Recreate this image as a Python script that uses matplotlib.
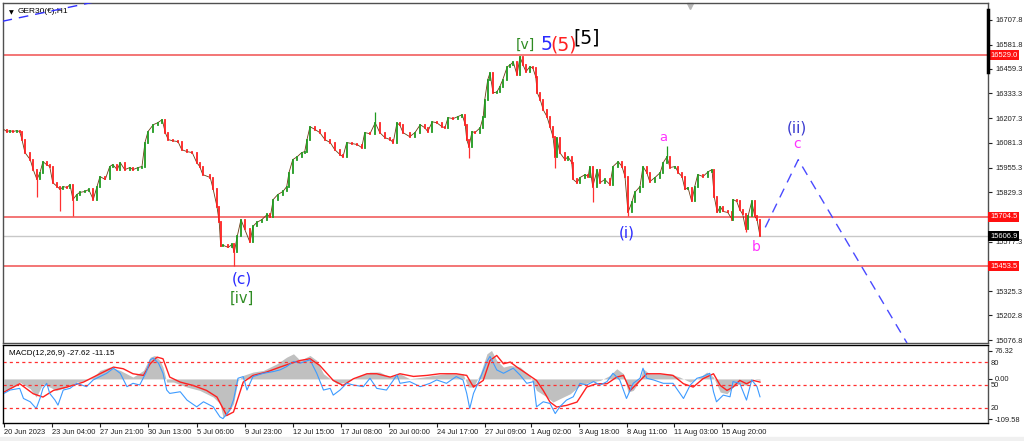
import numpy as np
import matplotlib.pyplot as plt
from matplotlib.patches import Rectangle

# ---- data (x = hourly bar index from 20 Jun 00:00) ----
hour_idx = [0, 4, 8, 12, 17, 21, 24, 28, 35, 39, 44, 48, 52, 57, 61, 65, 71, 75, 79, 84,
            88, 92, 97, 101, 108, 113, 119, 124, 128, 135, 141, 145, 151, 155, 161, 168, 172, 179, 184, 188,
            192, 199, 205, 211, 215, 219, 225, 232, 237, 244, 251, 257, 261,
            265, 275, 279, 284, 287, 289, 292, 299, 304, 307, 311, 316, 321, 328, 332, 337, 344, 351, 355, 359,
            365, 372, 377, 380, 385, 391, 397, 401, 404, 408, 415, 421, 428, 435, 441, 448, 452, 457, 464, 471,
            477, 481, 488, 495, 501, 508, 515, 519, 524,
            528, 532, 541, 548, 555, 561, 565, 571, 577, 584, 588, 592, 599, 605, 611, 615, 617, 620, 624, 628,
            635, 639, 641, 645, 648, 652, 657, 661, 665, 671, 675, 679, 684, 688, 692, 696, 701, 705, 709, 711,
            715, 719, 724, 728, 732, 735, 737, 741, 748, 752, 757, 759, 764, 768, 775, 779, 781, 785, 791,
            795, 801, 808, 812, 819, 824, 828, 832, 837, 841, 848, 852, 857, 861, 868, 875, 879, 884, 888, 895,
            899, 904, 908, 912, 917, 921, 925, 932, 939, 944, 947, 951, 955, 959, 965, 971, 972, 977, 981, 985,
            989, 992, 997, 1001, 1004, 1008]
close = [16149, 16139, 16144, 16139, 16144, 16139, 16098, 16032, 15996, 15945, 15895, 15930, 15986, 15970, 15961, 15879, 15859, 15844, 15859, 15854,
         15869, 15793, 15818, 15829, 15834, 15844, 15793, 15859, 15910, 15895, 15961, 15971, 15945, 15981, 15945, 15956, 15945, 15956, 15961, 16083,
         16139, 16174, 16184, 16200, 16134, 16098, 16092, 16088, 16047, 16037, 16032, 15981, 15961,
         15920, 15905, 15844, 15757, 15676, 15554, 15560, 15549, 15564, 15524, 15605, 15691, 15641, 15575, 15656, 15676, 15691, 15717, 15702, 15793,
         15818, 15834, 15859, 15930, 15996, 16011, 16032, 16037, 16098, 16164, 16149, 16134, 16098, 16083, 16047, 16022, 16011, 16083, 16078, 16073,
         16057, 16134, 16128, 16184, 16134, 16108, 16098, 16083, 16184,
         16170, 16134, 16113, 16134, 16174, 16159, 16139, 16189, 16184, 16164, 16159, 16210, 16205, 16215, 16225, 16174, 16098, 16062, 16139, 16134,
         16159, 16215, 16301, 16403, 16438, 16337, 16340, 16367, 16403, 16469, 16479, 16494, 16428, 16519, 16479, 16444, 16469, 16464, 16418, 16337,
         16301, 16250, 16215, 16164, 16113, 16011, 16108, 16032, 15996, 16011, 15981, 15895, 15879, 15905, 15920, 15910, 15961, 15859, 15945,
         15879, 15895, 15869, 15961, 15986, 15961, 15910, 15727, 15778, 15829, 15859, 15961, 15930, 15884, 15905, 15930, 15981, 16011, 15956, 15961,
         15930, 15910, 15844, 15854, 15783, 15859, 15920, 15910, 15935, 15945, 15808, 15727, 15757, 15732, 15727, 15691, 15793, 15783, 15742, 15717,
         15641, 15707, 15783, 15707, 15691, 15607]

# a few long shadows that stick out of the bodies
wick_idx = [44, 75, 92, 307, 495, 620, 688, 735, 785, 832, 884, 989]
wick_end = [15808, 15732, 15707, 15453, 16240, 16006, 16524, 15956, 15778, 15707, 16063, 15626]

levels_red = [16529.0, 15704.5, 15453.5]
last_price = 15606.9
price_ticks = [16707.8, 16581.8, 16459.3, 16333.3, 16207.3, 16081.3, 15955.3, 15829.3,
               15577.3, 15325.3, 15202.8, 15076.8]

# projected path for wave (ii) / next leg down
proj_idx = [1015, 1059, 1204]
proj_price = [15651, 15996, 15062]
old_line_idx = [-2, 130]
old_line_price = [16701, 16807]

# MACD main (histogram), signal and the blue oscillator (0-100 scale)
macd_idx = [0, 12, 21, 35, 43, 52, 61, 70, 84, 97, 110, 119, 128, 141, 155, 172, 186, 195, 201, 208,
            212, 217, 226, 244, 261, 279, 288, 292, 297, 306, 312, 319, 332, 346, 364, 377, 386, 395, 408, 417,
            426, 435, 444, 457, 475, 488, 501, 515, 528, 541, 559, 572, 590, 603, 612, 619, 626, 635, 644, 650,
            657, 666, 675, 688, 701, 710, 724, 732, 741, 755, 768, 781, 795, 808, 817, 826, 832, 839, 848, 852,
            861, 875, 888, 901, 915, 928, 937, 946, 955, 964, 972, 981, 990, 999, 1008]
macd_main = [-31.4, -22.3, -8.7, -26.9, -49.6, -13.2, -22.3, -31.4, -22.3, -8.7, -4.1, 5.0, 23.2, 32.3, 23.2, 5.0, 23.2, 59.6, 64.1, 50.5,
             32.3, -8.7, -8.7, -22.3, -31.4, -49.6, -67.8, -104.2, -99.7, -67.8, -4.1, 9.6, 18.7, 23.2, 41.4, 59.6, 68.7, 50.5, 64.1, 50.5,
             14.1, 0.5, -13.2, -8.7, 9.6, 18.7, 18.7, 5.0, 14.1, 0.5, 5.0, 9.6, 14.1, 14.1, 14.1, -22.3, -22.3, 14.1, 68.7, 77.8,
             50.5, 32.3, 36.9, 32.3, 9.6, -31.4, -49.6, -63.3, -54.2, -40.5, -17.8, -8.7, -4.1, 9.6, 27.8, 14.1, -36.0, -31.4, -4.1, 27.8,
             14.1, 14.1, 14.1, 5.0, -8.7, 5.0, 18.7, 5.0, -36.0, -40.5, -22.3, -13.2, -17.8, 0.5, -4.1]
sig_idx = [0, 21, 39, 52, 66, 84, 106, 128, 146, 159, 172, 186, 195, 204, 212, 221, 235, 252, 270, 284,
           297, 306, 319, 332, 350, 368, 381, 395, 408, 421, 439, 452, 466, 484, 497, 515, 528, 546, 564, 581,
           603, 617, 626, 639, 648, 657, 666, 675, 684, 697, 710, 719, 728, 737, 750, 764, 777, 790, 804, 817,
           826, 835, 844, 857, 875, 892, 906, 919, 932, 946, 955, 964, 972, 981, 990, 999, 1008]
macd_signal = [-36.0, -13.2, -40.5, -49.6, -31.4, -22.3, -8.7, 14.1, 32.3, 27.8, 14.1, 9.6, 41.4, 59.6, 55.1, 5.0, -8.7, -17.8, -31.4, -49.6,
               -100.0, -90.5, -8.7, 9.6, 18.7, 32.3, 41.4, 50.5, 55.1, 36.9, -4.1, -17.8, 0.5, 14.1, 14.1, 5.0, 14.1, 6.8, 9.6, 14.1,
               14.1, 9.6, -22.3, -4.1, 50.5, 64.1, 41.4, 46.0, 32.3, 14.1, -4.1, -31.4, -63.3, -76.9, -72.4, -63.3, -22.3, -13.2, -13.2, 5.0,
               9.6, -31.4, -13.2, 14.1, 14.1, 9.6, -13.2, -22.3, 0.5, 14.1, -17.8, -31.4, -22.3, -4.1, -13.2, -4.1, -8.7]
osc_idx = [0, 8, 21, 26, 35, 43, 48, 52, 57, 61, 68, 72, 79, 88, 97, 110, 119, 128, 137, 146,
           155, 164, 172, 181, 190, 195, 199, 206, 212, 217, 221, 235, 244, 257, 266, 279, 288, 292, 301, 306,
           312, 319, 324, 332, 346, 359, 368, 377, 386, 395, 408, 417, 426, 435, 439, 448, 457, 466, 479, 488,
           497, 510, 524, 528, 541, 555, 568, 577, 590, 603, 612, 617, 621, 626, 635, 644, 648, 657, 666, 679,
           688, 697, 706, 710, 719, 728, 735, 741, 750, 759, 768, 777, 786, 795, 804, 812, 821, 830, 839, 848,
           852, 857, 866, 879, 892, 906, 915, 924, 932, 941, 946, 950, 959, 968, 972, 981, 990, 997, 1004, 1008]
osc_val = [39.0, 43.4, 45.6, 32.4, 28.1, 19.3, 32.4, 45.6, 52.2, 39.0, 30.3, 23.7, 43.4, 45.6, 52.2, 47.8, 56.6, 61.0, 65.3, 71.9,
           65.3, 47.8, 52.2, 50.0, 67.5, 82.9, 85.1, 78.5, 65.3, 43.4, 39.0, 41.2, 30.3, 21.5, 28.1, 21.5, 8.3, 6.1, 17.1, 30.3,
           58.8, 61.0, 43.4, 61.0, 65.3, 67.5, 69.7, 74.1, 80.7, 78.5, 82.9, 65.3, 43.4, 45.6, 36.8, 43.4, 52.2, 50.0, 47.8, 58.8,
           45.6, 43.4, 63.1, 52.2, 54.4, 47.8, 52.2, 56.6, 52.2, 61.0, 56.6, 39.0, 19.3, 39.0, 58.8, 80.7, 87.3, 69.7, 65.3, 71.9,
           63.1, 52.2, 54.4, 21.5, 28.1, 25.9, 12.7, 21.5, 30.3, 34.6, 52.2, 50.0, 54.4, 50.0, 54.4, 65.3, 56.6, 32.4, 52.2, 58.8,
           71.9, 58.8, 56.6, 52.2, 52.2, 32.4, 50.0, 58.8, 61.0, 65.3, 41.2, 28.1, 36.8, 34.6, 54.4, 52.2, 30.3, 56.6, 47.8, 34.6]
osc_levels = [80, 50, 20]

date_idx = [0, 64, 128, 192, 257, 321, 385, 449, 513, 577, 641, 703, 767, 831, 893, 957]
date_labels = ['20 Jun 2023', '23 Jun 04:00', '27 Jun 21:00', '30 Jun 13:00', '5 Jul 06:00',
               '9 Jul 23:00', '12 Jul 15:00', '17 Jul 08:00', '20 Jul 00:00', '24 Jul 17:00',
               '27 Jul 09:00', '1 Aug 02:00', '3 Aug 18:00', '8 Aug 11:00', '11 Aug 03:00',
               '15 Aug 20:00']

# ---- figure ----
FS = 5.4
SMALL = 'Liberation Sans'
plt.rcParams['font.family'] = ['DejaVu Sans']
fig = plt.figure(figsize=(10.24, 4.41), dpi=100)
fig.patch.set_facecolor('white')
fig.patches.append(Rectangle((0, 0), 1, 4/441, transform=fig.transFigure, color='#f0f0f0', zorder=0))

ax = fig.add_axes([3/1024, 98/441, 985/1024, 340/441])
axm = fig.add_axes([3/1024, 18/441, 985/1024, 78/441])
axo = axm.twinx()

xlim = (-1.3, 1312)

# candles (open = previous close)
c = np.array(close, dtype=float)
o = np.concatenate([[c[0]], c[:-1]])
up = c >= o
ax.plot(hour_idx, close, color='#6b3a12', lw=0.6, zorder=2.8)
ax.vlines(hour_idx, np.minimum(o, c), np.maximum(o, c), colors=np.where(up, '#1f9a1f', '#ff2020'),
          lw=1.3, capstyle='projecting', zorder=3)
close_at = dict(zip(hour_idx, close))
for b, e in zip(wick_idx, wick_end):
    col = '#1f9a1f' if b in (495, 688, 884) else '#ff3030'
    ax.vlines(b, min(e, close_at[b]), max(e, close_at[b]), colors=col, lw=0.9, zorder=3)

for lv in levels_red:
    ax.axhline(lv, color='#f26a6a', lw=1.3, zorder=2)
ax.axhline(last_price, color='#c8c8c8', lw=1.0, zorder=1.5)

ax.plot(proj_idx, proj_price, color='#4a4aff', lw=1.0, ls=(0, (7, 5)), zorder=4)
ax.plot(old_line_idx, old_line_price, color='#3030ff', lw=1.0, ls=(0, (7, 5)), zorder=4)

ax.set_xlim(*xlim)
ax.set_ylim(15062, 16794)
ax.set_xticks([])
ax.yaxis.tick_right()
ax.set_yticks(price_ticks)
ax.set_yticklabels([f'{v:.1f}' for v in price_ticks], family=SMALL)
ax.tick_params(axis='y', length=3, width=0.8, labelsize=FS, pad=2, colors='#202020')
for s in ax.spines.values():
    s.set_color('#505050')
    s.set_linewidth(1.0)

# price boxes on the right scale
for lv in levels_red:
    ax.text(1.002, lv, f'{lv:.1f}', transform=ax.get_yaxis_transform(), ha='left', va='center',
            color='white', fontsize=FS, family=SMALL, zorder=6, clip_on=False,
            bbox=dict(boxstyle='square,pad=0.2', fc='#ff1010', ec='none'))
ax.text(1.002, last_price, f'{last_price:.1f}', transform=ax.get_yaxis_transform(), ha='left', va='center',
        color='white', fontsize=FS, family=SMALL, zorder=6, clip_on=False,
        bbox=dict(boxstyle='square,pad=0.2', fc='black', ec='none'))
ax.plot([1, 1], [0.797, 0.979], transform=ax.transAxes, color='black', lw=2.5, clip_on=False, zorder=7)
ax.plot([0.697], [0.99], marker='v', ms=5, color='#b8b8b8', transform=ax.transAxes, clip_on=False)

ax.text(0.006, 0.978, '\u25bc', transform=ax.transAxes, fontsize=4.5, va='top', ha='left')
ax.text(0.015, 0.984, 'GER30(\u20ac),H1', transform=ax.transAxes, fontsize=FS + 0.6, family=SMALL,
        va='top', ha='left')

# wave labels
green = '#2e8b22'
blue = '#2a2aff'
mag = '#ff33ff'
ax.text(695, 16581, '[v]', color=green, fontsize=10, ha='center', va='center')
ax.text(723, 16581, '5', color=blue, fontsize=13.5, ha='center', va='center')
ax.text(746, 16581, '(5)', color='#ff2020', fontsize=13.5, ha='center', va='center')
ax.text(777, 16616, '[5]', color='black', fontsize=13.5, ha='center', va='center')
ax.text(879, 16108, 'a', color=mag, fontsize=9.5, ha='center', va='center')
ax.text(1057, 16159, '(ii)', color='#3b3bd0', fontsize=11, ha='center', va='center')
ax.text(1057, 16078, 'c', color=mag, fontsize=10, ha='center', va='center')
ax.text(831, 15621, '(i)', color=blue, fontsize=11, ha='center', va='center')
ax.text(1003, 15549, 'b', color=mag, fontsize=10, ha='center', va='center')
ax.text(317, 15387, '(c)', color=blue, fontsize=11, ha='center', va='center')
ax.text(317, 15290, '[iv]', color=green, fontsize=10.5, ha='center', va='center')

# ---- MACD window ----
axm.fill_between(macd_idx, 0, macd_main, color='#c0c0c0', lw=0, zorder=1)
axm.plot(sig_idx, macd_signal, color='#ff2020', lw=1.0, zorder=3)
axm.set_xlim(*xlim)
axm.set_ylim(-120.5, 92.7)
axm.yaxis.tick_right()
axm.set_yticks([76.32, 0.0, -109.58])
axm.set_yticklabels(['76.32', '0.00', '-109.58'], family=SMALL)
axm.tick_params(axis='y', length=3, labelsize=FS, pad=2, colors='#202020')
axm.set_xticks(date_idx)
axm.set_xticklabels(date_labels, ha='left', family=SMALL)
axm.tick_params(axis='x', length=3, labelsize=FS, pad=1.5, colors='#202020')
for s in axm.spines.values():
    s.set_color('#505050')
    s.set_linewidth(1.0)

axo.plot(osc_idx, osc_val, color='#3d9bff', lw=0.8, zorder=2)
for lv in osc_levels:
    axo.axhline(lv, color='#ff3030', lw=0.9, ls=(0, (2.5, 2.5)))
axo.set_ylim(0.4, 102.2)
axo.set_yticks(osc_levels)
axo.set_yticklabels([str(v) for v in osc_levels], family=SMALL)
axo.tick_params(axis='y', length=0, labelsize=FS, pad=2, colors='#202020')
axo.spines['right'].set_visible(False)
axo.set_xlim(*xlim)

axm.text(0.006, 0.93, 'MACD(12,26,9) -27.62 -11.15', transform=axm.transAxes, fontsize=FS + 0.4,
         family=SMALL, va='top', ha='left', zorder=5)

fig.savefig('out.png', dpi=100)
